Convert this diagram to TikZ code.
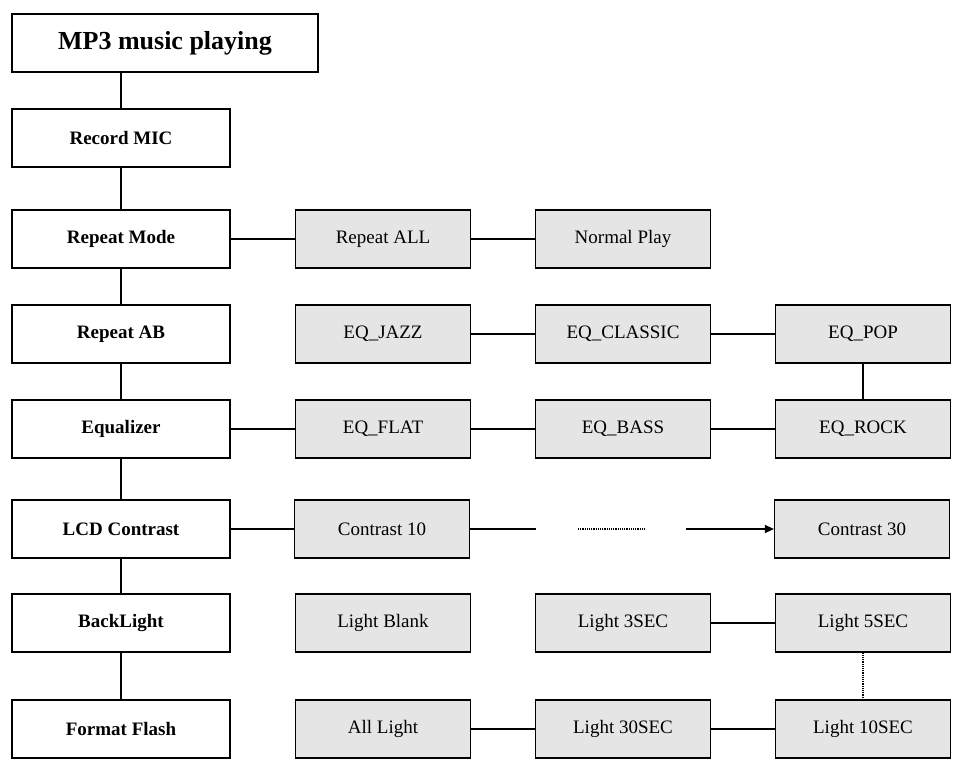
\documentclass[tikz,border=0pt]{standalone}
\usepackage{fontspec}
\setmainfont{Liberation Serif}
\usetikzlibrary{positioning, arrows.meta}
\begin{document}
\begin{tikzpicture}[x=1pt, y=-1pt]
\tikzstyle{menu} = [rectangle, draw, line width=1.2pt, fill=white, minimum width=218pt, minimum height=58pt, font=\fontsize{19}{22}\selectfont\bfseries]
\tikzstyle{item} = [rectangle, draw, line width=1.2pt, fill=black!10, minimum width=175pt, minimum height=58pt, font=\fontsize{19}{22}\selectfont]
\tikzstyle{line} = [draw, line width=1.2pt]
\useasboundingbox (0,0) rectangle (960,765);

\node [menu, line width=2.5pt, minimum width=306pt, font=\fontsize{26}{30}\selectfont\bfseries] (mp3) at (165,43) {MP3 music playing};
\node [menu] (record) at (121,138) {Record MIC};
\node [menu] (mode) at (121,239) {Repeat Mode};
\node [menu] (ab) at (121,334) {Repeat AB};
\node [menu] (eq) at (121,429) {Equalizer};
\node [menu] (lcd) at (121,529) {LCD Contrast};
\node [menu] (back) at (121,623) {BackLight};
\node [menu] (flash) at (121,729) {Format Flash};

\node [item] (all) at (383,239) {Repeat ALL};
\node [item] (normal) at (623,239) {Normal Play};
\node [item] (jazz) at (383,334) {EQ\_JAZZ};
\node [item] (classic) at (623,334) {EQ\_CLASSIC};
\node [item] (pop) at (863,334) {EQ\_POP};
\node [item] (flat) at (383,429) {EQ\_FLAT};
\node [item] (bass) at (623,429) {EQ\_BASS};
\node [item] (rock) at (863,429) {EQ\_ROCK};
\node [item] (c10) at (382,529) {Contrast 10};
\node [item] (c30) at (862,529) {Contrast 30};
\node [item] (blank) at (383,623) {Light Blank};
\node [item] (l3) at (623,623) {Light 3SEC};
\node [item] (l5) at (863,623) {Light 5SEC};
\node [item] (alllight) at (383,729) {All Light};
\node [item] (l30) at (623,729) {Light 30SEC};
\node [item] (l10) at (863,729) {Light 10SEC};

\coordinate (gapa) at (536,529);
\coordinate (dota) at (578,529);
\coordinate (dotb) at (645,529);
\coordinate (arra) at (686,529);

\draw [line] (mp3.south -| record) -- (record);
\draw [line] (record) -- (mode);
\draw [line] (mode) -- (ab);
\draw [line] (ab) -- (eq);
\draw [line] (eq) -- (lcd);
\draw [line] (lcd) -- (back);
\draw [line] (back) -- (flash);
\draw [line] (mode) -- (all);
\draw [line] (all) -- (normal);
\draw [line] (jazz) -- (classic);
\draw [line] (classic) -- (pop);
\draw [line] (pop) -- (rock);
\draw [line] (eq) -- (flat);
\draw [line] (flat) -- (bass);
\draw [line] (bass) -- (rock);
\draw [line] (lcd) -- (c10);
\draw [line] (c10) -- (gapa);
\draw [line, densely dotted] (dota) -- (dotb);
\draw [line, -{Triangle[length=9pt, width=8pt]}] (arra) -- (c30);
\draw [line] (l3) -- (l5);
\draw [line, densely dotted] (l5) -- (l10);
\draw [line] (alllight) -- (l30);
\draw [line] (l30) -- (l10);

\end{tikzpicture}
\end{document}
